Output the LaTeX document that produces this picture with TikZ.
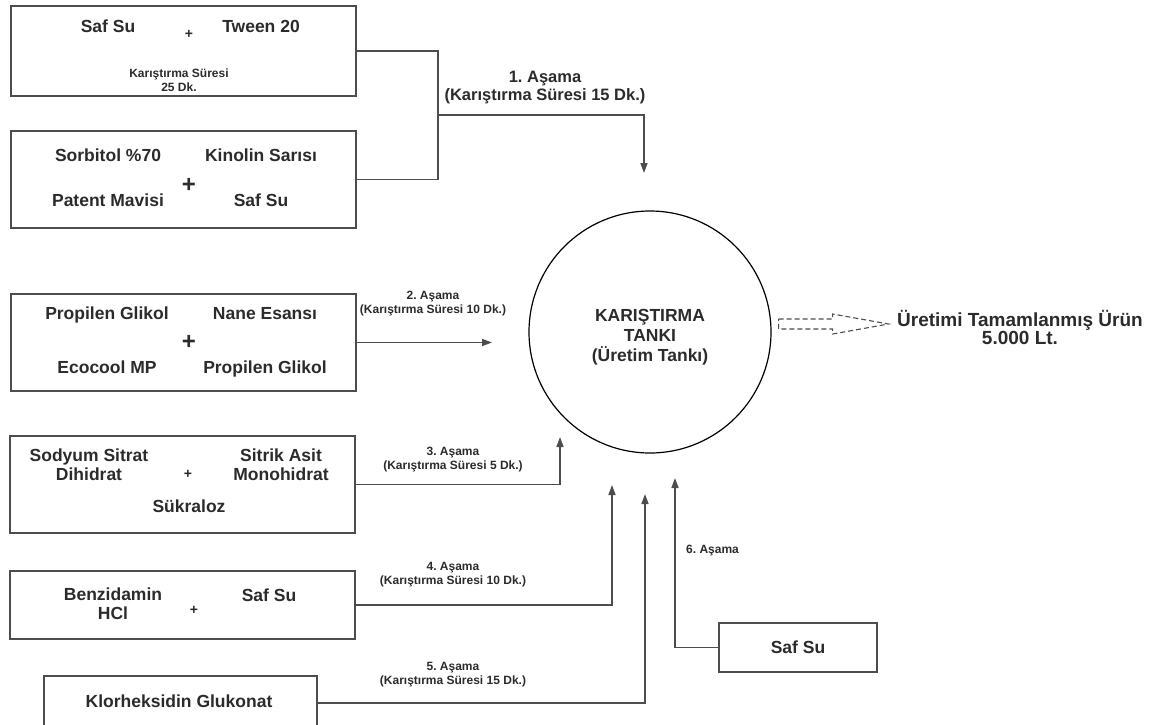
\documentclass[tikz,border=0pt]{standalone}
\usepackage{fontspec}
\setmainfont{Liberation Sans}
\usetikzlibrary{arrows.meta}
\definecolor{linegray}{HTML}{4D4D4D}
\definecolor{txtgray}{HTML}{2B2B2B}
\tikzstyle{ingbox} = [rectangle, draw=linegray, line width=1.6pt, inner sep=0pt]
\tikzstyle{item} = [inner sep=0pt, text=txtgray, align=center, text height=12.6pt, text depth=0pt, font=\fontsize{17.5}{19}\selectfont\bfseries]
\tikzstyle{plussign} = [inner sep=0pt, text=txtgray, font=\fontsize{14}{14}\selectfont\bfseries]
\tikzstyle{bigplus} = [plussign, font=\fontsize{24}{24}\selectfont\bfseries]
\tikzstyle{note} = [inner sep=0pt, text=txtgray, align=center, text height=8.6pt, text depth=0pt, font=\fontsize{12}{13.5}\selectfont\bfseries]
\tikzstyle{bignote} = [note, text height=11.8pt, font=\fontsize{16.5}{18}\selectfont\bfseries]
\tikzstyle{tankstyle} = [circle, draw=black, line width=1.2pt, minimum size=242pt, inner sep=0pt, align=center, text height=58pt, text depth=0pt, text=txtgray, font=\fontsize{17.5}{20}\selectfont\bfseries]
\tikzstyle{feed} = [draw=linegray, line width=1.6pt]
\tikzstyle{flowarrow} = [feed, -{Triangle[length=10pt,width=7pt]}]
\tikzstyle{hollowflow} = [draw=linegray, line width=1.1pt, dash pattern=on 5pt off 3pt]

\begin{document}
\frenchspacing
\begin{tikzpicture}[x=1pt, y=-1pt]
  \useasboundingbox (0,0) rectangle (1162,724);

  % ingredient boxes
  \node (b1) [ingbox, minimum width=345pt, minimum height=90pt] at (183.5,51) {};
  \node (b2) [ingbox, minimum width=345pt, minimum height=97pt] at (183.5,179.5) {};
  \node (b3) [ingbox, minimum width=345pt, minimum height=97pt] at (183.5,342.5) {};
  \node (b4) [ingbox, minimum width=345pt, minimum height=97pt] at (182.5,484.5) {};
  \node (b5) [ingbox, minimum width=345pt, minimum height=68pt] at (182.5,605) {};
  \node (b6) [ingbox, minimum width=273pt, minimum height=54pt] at (180.5,703) {};
  \node (b7) [ingbox, minimum width=158pt, minimum height=49pt] at (798,647.5) {};

  \node (safsu1) [item] at (108,26) {Saf Su};
  \node (plus1) [plussign] at (189,34) {+};
  \node (tween) [item] at (261,26) {Tween 20};
  \node (sure1) [note] at (179,87) {Karıştırma Süresi\\25 Dk.};

  \node (sorbitol) [item] at (108,155) {Sorbitol \%70};
  \node (kinolin) [item] at (261,155) {Kinolin Sarısı};
  \node (plus2) [bigplus] at (189,185) {+};
  \node (patent) [item] at (108,200) {Patent Mavisi};
  \node (safsu2) [item] at (261,200) {Saf Su};

  \node (glikol1) [item] at (107,313) {Propilen Glikol};
  \node (nane) [item] at (265,313) {Nane Esansı};
  \node (plus3) [bigplus] at (189,342) {+};
  \node (ecocool) [item] at (107,367) {Ecocool MP};
  \node (glikol2) [item] at (265,367) {Propilen Glikol};

  \node (sodyum) [item] at (89,474) {Sodyum Sitrat\\Dihidrat};
  \node (plus4) [plussign] at (188,474) {+};
  \node (sitrik) [item] at (281,474) {Sitrik Asit\\Monohidrat};
  \node (sukraloz) [item] at (189,506) {Sükraloz};

  \node (benzidamin) [item] at (113,613) {Benzidamin\\HCl};
  \node (plus5) [plussign] at (194,610) {+};
  \node (safsu3) [item] at (269,595) {Saf Su};

  \node (klor) [item] at (179,701) {Klorheksidin Glukonat};
  \node (safsu4) [item] at (798,647) {Saf Su};

  % tank and product
  \node (tank) [tankstyle] at (650,332) {KARIŞTIRMA\\TANKI\\(Üretim Tankı)};
  \node (out) [item, font=\fontsize{19}{17}\selectfont\bfseries, text height=13.6pt] at (1020,338) {Üretimi Tamamlanmış Ürün\\5.000 Lt.};

  % stage labels
  \node (s1) [bignote] at (545,95) {1. Aşama\\(Karıştırma Süresi 15 Dk.)};
  \node (s2) [note] at (433,309) {2. Aşama\\(Karıştırma Süresi 10 Dk.)};
  \node (s3) [note] at (453,465) {3. Aşama\\(Karıştırma Süresi 5 Dk.)};
  \node (s4) [note] at (453,580) {4. Aşama\\(Karıştırma Süresi 10 Dk.)};
  \node (s5) [note] at (453,680) {5. Aşama\\(Karıştırma Süresi 15 Dk.)};
  \node (s6) [note, anchor=west] at (686,549) {6. Aşama};

  \coordinate (j1) at (438,115);
  \coordinate (t1) at (644,173);
  \coordinate (t2) at (492,342.5);
  \coordinate (t3) at (560,437);
  \coordinate (t4) at (612,485);
  \coordinate (t5) at (645,494);
  \coordinate (t6) at (675,478);

  \draw [feed] (b1.east) -| (j1) |- (b2.east);
  \draw [flowarrow] (j1) -| (t1);
  \draw [flowarrow] (b3.east) -- (t2);
  \draw [flowarrow] (b4.east) -| (t3);
  \draw [flowarrow] (b5.east) -| (t4);
  \draw [flowarrow] (b6.east) -| (t5);
  \draw [flowarrow] (b7.west) -| (t6);

  % dashed outline arrow to the product
  \draw [hollowflow] (tank.east) ++(7,-13) -- ++(54,0) -- ++(0,-5) -- ++(56,10)
    -- ++(-56,10) -- ++(0,-5) -- ++(-54,0) -- cycle;
\end{tikzpicture}
\end{document}
